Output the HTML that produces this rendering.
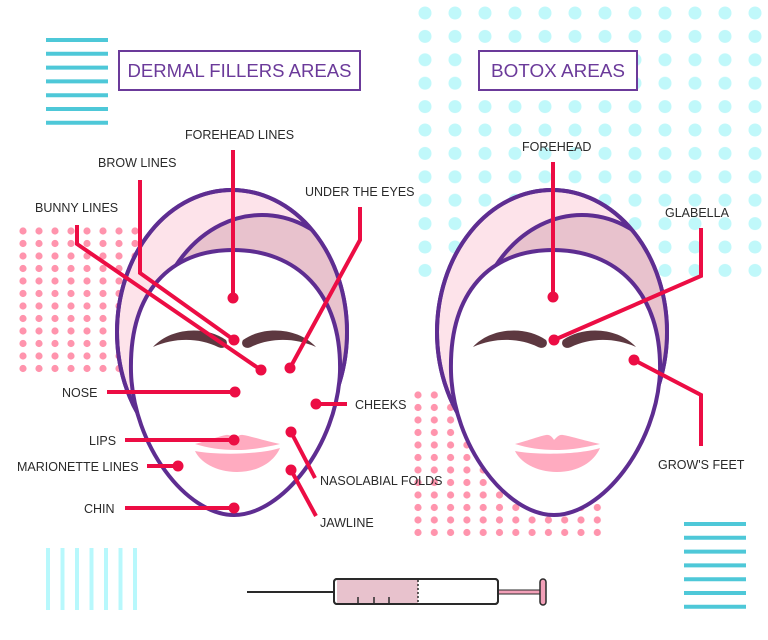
<!DOCTYPE html>
<html><head><meta charset="utf-8"><style>
html,body{margin:0;padding:0;background:#fff;}
svg{display:block;}
text{font-family:"Liberation Sans",sans-serif;fill:#2a2a2a;font-size:12.5px;}
.t{fill:#6b3a9a;font-size:18px;}
</style></head><body>
<svg width="768" height="640" viewBox="0 0 768 640" xmlns="http://www.w3.org/2000/svg">
<defs>
<pattern id="cy" x="425" y="13" width="30" height="23.4" patternUnits="userSpaceOnUse"><circle cx="0" cy="0" r="6.5" fill="#c0f8fa"/><circle cx="30" cy="0" r="6.5" fill="#c0f8fa"/><circle cx="0" cy="23.4" r="6.5" fill="#c0f8fa"/><circle cx="30" cy="23.4" r="6.5" fill="#c0f8fa"/></pattern>
<pattern id="pk" x="23" y="231" width="16" height="12.5" patternUnits="userSpaceOnUse"><circle cx="0" cy="0" r="3.6" fill="#ff94ad"/><circle cx="16" cy="0" r="3.6" fill="#ff94ad"/><circle cx="0" cy="12.5" r="3.6" fill="#ff94ad"/><circle cx="16" cy="12.5" r="3.6" fill="#ff94ad"/></pattern>
<pattern id="pk2" x="418" y="395" width="16.3" height="12.5" patternUnits="userSpaceOnUse"><circle cx="0" cy="0" r="3.6" fill="#ff94ad"/><circle cx="16.3" cy="0" r="3.6" fill="#ff94ad"/><circle cx="0" cy="12.5" r="3.6" fill="#ff94ad"/><circle cx="16.3" cy="12.5" r="3.6" fill="#ff94ad"/></pattern>
<clipPath id="c1"><ellipse cx="232" cy="332" rx="115" ry="142"/></clipPath>
</defs>
<rect x="418" y="5" width="350" height="275" fill="url(#cy)"/>
<rect x="17" y="226" width="124" height="148" fill="url(#pk)"/>
<rect x="413" y="390" width="192" height="146" fill="url(#pk2)"/>
<g stroke="#4ec8d8" stroke-width="4">
<line x1="46" x2="108" y1="40" y2="40"/><line x1="46" x2="108" y1="53.8" y2="53.8"/><line x1="46" x2="108" y1="67.6" y2="67.6"/><line x1="46" x2="108" y1="81.4" y2="81.4"/><line x1="46" x2="108" y1="95.2" y2="95.2"/><line x1="46" x2="108" y1="109" y2="109"/><line x1="46" x2="108" y1="122.8" y2="122.8"/>
<line x1="684" x2="746" y1="524" y2="524"/><line x1="684" x2="746" y1="537.8" y2="537.8"/><line x1="684" x2="746" y1="551.6" y2="551.6"/><line x1="684" x2="746" y1="565.4" y2="565.4"/><line x1="684" x2="746" y1="579.2" y2="579.2"/><line x1="684" x2="746" y1="593" y2="593"/><line x1="684" x2="746" y1="606.8" y2="606.8"/>
</g>
<g stroke="#b8f8fc" stroke-width="4">
<line x1="48" x2="48" y1="548" y2="610"/><line x1="62.5" x2="62.5" y1="548" y2="610"/><line x1="77" x2="77" y1="548" y2="610"/><line x1="91.5" x2="91.5" y1="548" y2="610"/><line x1="106" x2="106" y1="548" y2="610"/><line x1="120.5" x2="120.5" y1="548" y2="610"/><line x1="135" x2="135" y1="548" y2="610"/>
</g>
<rect x="119" y="51" width="241" height="39" fill="#fff" stroke="#6b3a9a" stroke-width="2"/>
<text class="t" x="239.5" y="77" text-anchor="middle" textLength="224" lengthAdjust="spacingAndGlyphs">DERMAL FILLERS AREAS</text>
<rect x="479" y="51" width="158" height="39" fill="#fff" stroke="#6b3a9a" stroke-width="2"/>
<text class="t" x="558" y="77" text-anchor="middle" textLength="134" lengthAdjust="spacingAndGlyphs">BOTOX AREAS</text>

<g id="face">
<ellipse cx="232" cy="332" rx="115" ry="142" fill="#fde3ea" stroke="#5e2d91" stroke-width="4"/>
<ellipse cx="262" cy="355" rx="112" ry="140" fill="#e8c2cd" stroke="#5e2d91" stroke-width="4" clip-path="url(#c1)"/>
<ellipse cx="232" cy="332" rx="115" ry="142" fill="none" stroke="#5e2d91" stroke-width="4"/>
<path d="M233,250 C296,250 342,292 340,372 C337,445 282,515 234,515 C186,515 133,445 131,372 C129,292 170,250 233,250 Z" fill="#fff" stroke="#5e2d91" stroke-width="4"/>
<path d="M153,347 C170,328 205,325 226,340 C229,345 224,350 218,347 C200,338 175,337 153,347 Z" fill="#5d3840"/>
<path d="M316,347 C299,328 264,325 243,340 C240,345 245,350 251,347 C269,338 294,337 316,347 Z" fill="#5d3840"/>
<path d="M195,444 C210,440 220,436 226,435 C230,434 233,438 234,440 C236,438 239,434 243,435 C250,436 262,440 280,444 C262,448 250,450 237,450 C220,450 208,448 195,444 Z" fill="#ffabc0"/>
<path d="M195,451 C215,455 258,455 280,448 C274,462 258,472 237,472 C216,472 200,462 195,451 Z" fill="#ffabc0"/>
</g>
<g transform="translate(320,0)">
<ellipse cx="232" cy="332" rx="115" ry="142" fill="#fde3ea" stroke="#5e2d91" stroke-width="4"/>
<ellipse cx="262" cy="355" rx="112" ry="140" fill="#e8c2cd" stroke="#5e2d91" stroke-width="4" clip-path="url(#c1)"/>
<ellipse cx="232" cy="332" rx="115" ry="142" fill="none" stroke="#5e2d91" stroke-width="4"/>
<path d="M233,250 C296,250 342,292 340,372 C337,445 282,515 234,515 C186,515 133,445 131,372 C129,292 170,250 233,250 Z" fill="#fff" stroke="#5e2d91" stroke-width="4"/>
<path d="M153,347 C170,328 205,325 226,340 C229,345 224,350 218,347 C200,338 175,337 153,347 Z" fill="#5d3840"/>
<path d="M316,347 C299,328 264,325 243,340 C240,345 245,350 251,347 C269,338 294,337 316,347 Z" fill="#5d3840"/>
<path d="M195,444 C210,440 220,436 226,435 C230,434 233,438 234,440 C236,438 239,434 243,435 C250,436 262,440 280,444 C262,448 250,450 237,450 C220,450 208,448 195,444 Z" fill="#ffabc0"/>
<path d="M195,451 C215,455 258,455 280,448 C274,462 258,472 237,472 C216,472 200,462 195,451 Z" fill="#ffabc0"/>
</g>

<g stroke="#ec0d44" stroke-width="4" fill="none">
<polyline points="233,150 233,298"/>
<polyline points="140,180 140,273 234,340"/>
<polyline points="77,225 77,244 261,370"/>
<polyline points="360,207 360,240 290,368"/>
<polyline points="107,392 235,392"/>
<polyline points="316,404 347,404"/>
<polyline points="125,440 234,440"/>
<polyline points="147,466 178,466"/>
<polyline points="291,432 315,478"/>
<polyline points="125,508 234,508"/>
<polyline points="291,470 316,516"/>
<polyline points="553,162 553,297"/>
<polyline points="701,228 701,276 554,340"/>
<polyline points="634,360 701,395 701,446"/>
</g>
<g fill="#ec0d44">
<circle cx="233" cy="298" r="5.5"/><circle cx="234" cy="340" r="5.5"/><circle cx="261" cy="370" r="5.5"/><circle cx="290" cy="368" r="5.5"/>
<circle cx="235" cy="392" r="5.5"/><circle cx="316" cy="404" r="5.5"/><circle cx="234" cy="440" r="5.5"/><circle cx="178" cy="466" r="5.5"/>
<circle cx="291" cy="432" r="5.5"/><circle cx="234" cy="508" r="5.5"/><circle cx="291" cy="470" r="5.5"/>
<circle cx="553" cy="297" r="5.5"/><circle cx="554" cy="340" r="5.5"/><circle cx="634" cy="360" r="5.5"/>
</g>
<text x="185" y="139">FOREHEAD LINES</text>
<text x="98" y="167">BROW LINES</text>
<text x="35" y="212">BUNNY LINES</text>
<text x="305" y="196">UNDER THE EYES</text>
<text x="62" y="397">NOSE</text>
<text x="355" y="409">CHEEKS</text>
<text x="89" y="445">LIPS</text>
<text x="17" y="471">MARIONETTE LINES</text>
<text x="320" y="485">NASOLABIAL FOLDS</text>
<text x="84" y="513">CHIN</text>
<text x="320" y="527">JAWLINE</text>
<text x="522" y="151">FOREHEAD</text>
<text x="665" y="217">GLABELLA</text>
<text x="658" y="469">GROW'S FEET</text>
<line x1="247" y1="592" x2="334" y2="592" stroke="#2a2a2a" stroke-width="2"/>
<rect x="498" y="590" width="42" height="4" fill="#f2a0b8" stroke="#2a2a2a" stroke-width="1"/>
<rect x="540" y="579" width="6" height="26" rx="3" fill="#f2a0b8" stroke="#2a2a2a" stroke-width="1.5"/>
<rect x="334" y="579" width="164" height="25" rx="3" fill="#fff" stroke="#2a2a2a" stroke-width="2"/>
<path d="M337,580 L418,580 L418,603 L337,603 Z" fill="#e8c2cd"/>
<line x1="418" y1="580" x2="418" y2="603" stroke="#2a2a2a" stroke-width="1.5" stroke-dasharray="2,2"/>
<rect x="334" y="579" width="164" height="25" rx="3" fill="none" stroke="#2a2a2a" stroke-width="2"/>
<g stroke="#2a2a2a" stroke-width="1.5"><line x1="358" y1="597" x2="358" y2="604"/><line x1="374" y1="597" x2="374" y2="604"/><line x1="389" y1="597" x2="389" y2="604"/></g>
</svg>
</body></html>
